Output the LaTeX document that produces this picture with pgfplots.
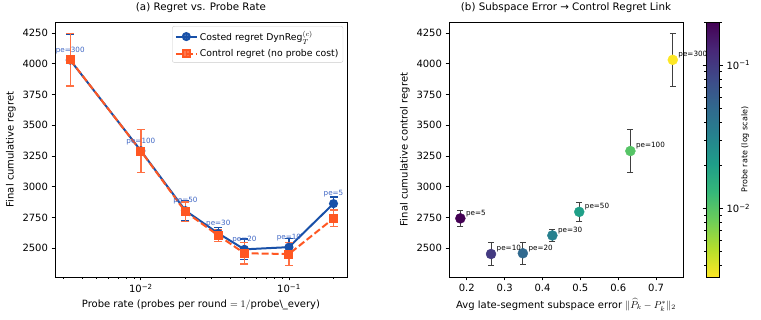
\documentclass[border=0pt]{standalone}
\usepackage{pgfplots}
\pgfplotsset{compat=1.18}
\usepackage{pgfplotstable}
\usepackage{fontspec}
\setmainfont{DejaVu Sans}

\definecolor{costblue}{RGB}{24,80,168}
\definecolor{ctrlorange}{RGB}{255,87,34}
\definecolor{annblue}{RGB}{60,100,195}

% viridis, running from yellow (low rate) to purple (high rate)
\pgfplotsset{colormap={viridisr}{rgb255=(253,231,37) rgb255=(180,222,44)
  rgb255=(109,205,89) rgb255=(53,183,121) rgb255=(31,158,137) rgb255=(38,130,142)
  rgb255=(49,104,142) rgb255=(62,74,137) rgb255=(72,40,120) rgb255=(68,1,84)}}

\pgfplotsset{
  every axis/.append style={
    tick label style={font=\fontsize{10}{12}\selectfont},
    label style={font=\fontsize{10}{12}\selectfont},
    title style={font=\fontsize{10.3}{12}\selectfont},
    /pgf/number format/1000 sep={},
    /pgf/number format/assume math mode=true,
  },
  % carries only the "pe=..." labels, nothing else is drawn
  pelabels/.style={forget plot, only marks, mark=text, text mark={},
    point meta=explicit symbolic, nodes near coords={pe=\pgfplotspointmeta}},
  % geometry shared by panel (b) and its colour bar
  panelb/.style={at={(449pt,43pt)}, anchor=south west,
    scale only axis, width=234pt, height=255pt,
    xmin=0.153, xmax=0.771, ymin=2265, ymax=4340,
    colormap name=viridisr, point meta min=-2.4771, point meta max=-0.69897},
}

% pe = probe_every, rate = 1/pe; mean and spread of the two regrets;
% sub = average late-segment subspace error
\pgfplotstableread{
pe  rate       cost  costerr ctrl ctrlerr sub
300 0.0033333  4030  210     4032 213     0.744
100 0.01       3292  175     3290 177     0.632
50  0.02       2805  85      2795 80      0.497
30  0.0333333  2620  45      2603 48      0.426
20  0.05       2490  85      2458 88      0.348
10  0.1        2508  70      2452 95      0.264
5   0.2        2862  55      2742 68      0.183
}\regret

\begin{document}
\begin{tikzpicture}
\path[use as bounding box] (0,0) rectangle (761pt,320pt);

% (a) regret against probe rate
\begin{axis}[
  at={(55pt,43pt)}, anchor=south west,
  scale only axis, width=292pt, height=255pt,
  xmode=log, xmin=0.00263, xmax=0.2466, ymin=2265, ymax=4340,
  xtick={0.01,0.1}, xticklabels={10\textsuperscript{−2},10\textsuperscript{−1}},
  minor xtick={0.003,0.004,0.005,0.006,0.007,0.008,0.009,0.02,0.03,0.04,0.05,0.06,0.07,0.08,0.09,0.2},
  ytick={2500,2750,3000,3250,3500,3750,4000,4250},
  tick pos=left, tick align=outside,
  major tick length=3.5pt, minor tick length=2pt,
  axis line style={line width=0.8pt}, every tick/.style={black, line width=0.8pt},
  title={(a) Regret vs. Probe Rate},
  xlabel={Probe rate (probes per round $=1/$probe\textbackslash\_every)},
  ylabel={Final cumulative regret},
  legend style={at={(0.987,0.984)}, anchor=north east, font=\fontsize{9.3}{11}\selectfont,
    draw=black!20, rounded corners=2pt, fill=white, fill opacity=0.8, text opacity=1,
    inner sep=2.5pt, row sep=3pt},
  legend cell align=left,
  legend image code/.code={
    \draw[mark repeat=2,mark phase=2,#1] plot coordinates {(0cm,0cm) (0.37cm,0cm) (0.74cm,0cm)};
    \draw[#1,solid,mark=none,line width=1.2pt] (0.37cm,-4pt) -- (0.37cm,4pt);
  },
]
\addplot[costblue, line width=2pt, mark=*, mark size=3.5pt, mark options={solid},
  error bars/.cd, y dir=both, y explicit,
  error bar style={line width=1.3pt, solid, costblue},
  error mark options={rotate=90, line width=1.3pt, mark size=4pt, solid, costblue}]
  table[x=rate, y=cost, y error=costerr]{\regret};
\addlegendentry{Costed regret DynReg$_T^{(c)}$}
\addplot[ctrlorange, line width=2pt, dash pattern=on 7pt off 3pt, mark=square*, mark size=3.5pt,
  mark options={solid},
  error bars/.cd, y dir=both, y explicit,
  error bar style={line width=1.3pt, solid, ctrlorange!85!white},
  error mark options={rotate=90, line width=1.3pt, mark size=4pt, solid, ctrlorange!85!white}]
  table[x=rate, y=ctrl, y error=ctrlerr]{\regret};
\addlegendentry{Control regret (no probe cost)}
\addplot[pelabels,
  nodes near coords style={font=\fontsize{7.2}{8}\selectfont, text=annblue, anchor=south,
    inner sep=0pt, yshift=6pt}]
  table[x=rate, y=cost, meta=pe]{\regret};
\end{axis}

% (b) subspace error against control regret
\begin{axis}[
  panelb,
  xtick={0.2,0.3,0.4,0.5,0.6,0.7},
  ytick={2500,2750,3000,3250,3500,3750,4000,4250},
  tick pos=left, tick align=outside, major tick length=3.5pt,
  axis line style={line width=0.8pt}, every tick/.style={black, line width=0.8pt},
  title={(b) Subspace Error → Control Regret Link},
  xlabel={Avg late-segment subspace error $\|\widehat{P}_k-P_k^{*}\|_2$},
  ylabel={Final cumulative control regret},
]
\addplot[only marks, mark=none,
  error bars/.cd, y dir=both, y explicit,
  error bar style={line width=1pt, black!75},
  error mark options={rotate=90, line width=1pt, mark size=3pt, black!75}]
  table[x=sub, y=ctrl, y error=ctrlerr]{\regret};
\addplot[scatter, only marks, mark=*, mark size=5pt,
  scatter/use mapped color={draw=mapped color, fill=mapped color},
  point meta={log10(\thisrow{rate})}]
  table[x=sub, y=ctrl]{\regret};
\addplot[pelabels,
  nodes near coords style={font=\fontsize{7.2}{8}\selectfont, text=black, anchor=west,
    inner sep=0pt, xshift=5.5pt, yshift=5pt}]
  table[x=sub, y=ctrl, meta=pe]{\regret};
\end{axis}

% colour bar of panel (b), drawn last so that it sits on top
\begin{axis}[
  panelb, hide axis,
  colorbar,
  colorbar style={
    at={(parent axis.north east)}, anchor=north west, xshift=14.5pt,
    scale only axis, width=13.5pt, height=255pt,
    ytick={-2,-1}, yticklabels={10\textsuperscript{−2},10\textsuperscript{−1}},
    minor ytick={-2.398,-2.301,-2.222,-2.155,-2.097,-2.046,-1.699,-1.523,-1.398,-1.301,-1.222,-1.155,-1.097,-1.046,-0.699},
    tick align=outside, major tick length=3.5pt, minor tick length=2pt,
    every tick/.style={black, line width=0.8pt},
    axis line style={line width=0.8pt},
    ylabel={Probe rate (log scale)},
    ylabel style={font=\fontsize{8}{10}\selectfont, at={(axis description cs:2.9,0.5)},
      anchor=center, rotate=0},
  },
]
\end{axis}
\end{tikzpicture}
\end{document}
